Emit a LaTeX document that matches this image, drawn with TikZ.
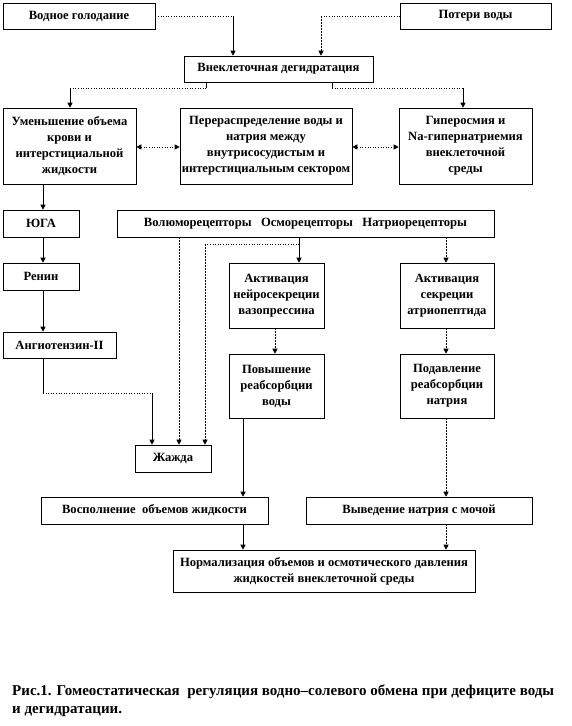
\documentclass[tikz,border=0pt]{standalone}
\usepackage{fontspec}
\setmainfont{Liberation Serif}
\usetikzlibrary{arrows.meta, positioning}
\tikzset{
    box/.style={draw=black, line width=0.6pt, align=center, inner sep=1pt, fill=white,
        font=\fontsize{12.6}{16}\selectfont\bfseries},
    arr/.style={-{Triangle[length=5pt, width=5pt]}, line width=0.6pt},
    darr/.style={arr, dash pattern=on 2pt off 1pt},
    dotline/.style={dotted, line width=0.6pt},
    solid line/.style={line width=0.6pt},
    caption/.style={anchor=north west, align=left, inner sep=0pt,
        font=\fontsize{15}{18}\selectfont\bfseries}
}

\begin{document}
\begin{tikzpicture}[x=1pt, y=-1pt]
    \useasboundingbox (0,0) rectangle (572,726);

    % --- TOP ROW ---
    \node[box, minimum width=152pt, minimum height=26pt] (hunger) at (79,16) {Водное голодание};
    \node[box, minimum width=151pt, minimum height=26pt] (loss) at (475.5,16) {Потери воды};
    \node[box, minimum width=189pt, minimum height=26pt] (dehydr) at (278.5,69) {Внеклеточная дегидратация};

    % --- SECOND ROW ---
    \node[box, minimum width=133pt, minimum height=76pt] (volume) at (69.5,146)
        {Уменьшение объема\\крови и\\интерстициальной\\жидкости};
    \node[box, minimum width=172pt, minimum height=76pt] (redistr) at (266,146)
        {Перераспределение воды и\\натрия между\\внутрисосудистым и\\интерстициальным сектором};
    \node[box, minimum width=133pt, minimum height=76pt] (hyperosm) at (465.5,146)
        {Гиперосмия и\\Na-гипернатриемия\\внеклеточной\\среды};

    % --- RECEPTORS AND RAAS ---
    \node[box, minimum width=76pt, minimum height=27pt] (yuga) at (41,223.5) {ЮГА};
    \node[box, minimum width=377pt, minimum height=27pt] (recept) at (305.5,223.5)
        {Волюморецепторы~~~Осморецепторы~~~Натриорецепторы};
    \node[box, minimum width=76pt, minimum height=27pt] (renin) at (41,276.5) {Ренин};
    \node[box, minimum width=113pt, minimum height=26pt] (angio) at (59.5,345) {Ангиотензин-II};

    \node[box, minimum width=95pt, minimum height=65pt] (vaso) at (276.5,295.5)
        {Активация\\нейросекреции\\вазопрессина};
    \node[box, minimum width=94pt, minimum height=65pt] (atrio) at (447,295.5)
        {Активация\\секреции\\атриопептида};
    \node[box, minimum width=95pt, minimum height=64pt] (reabsW) at (276.5,386)
        {Повышение\\реабсорбции\\воды};
    \node[box, minimum width=94pt, minimum height=64pt] (reabsNa) at (447,386)
        {Подавление\\реабсорбции\\натрия};

    \node[box, minimum width=76pt, minimum height=27pt] (thirst) at (173,458.5) {Жажда};

    % --- BOTTOM ---
    \node[box, minimum width=227pt, minimum height=27pt] (refill) at (154.5,510.5) {Восполнение~~объемов жидкости};
    \node[box, minimum width=226pt, minimum height=27pt] (excret) at (419,510.5) {Выведение натрия с мочой};
    \node[box, minimum width=302pt, minimum height=42pt] (norm) at (324,571)
        {Нормализация объемов и осмотического давления\\жидкостей внеклеточной среды};

    % --- CONNECTORS ---
    \draw[dotline] (hunger.east) -- (233,16) coordinate (h1);
    \draw[arr] (h1) -- (h1 |- dehydr.north);
    \draw[dotline] (loss.west) -- (321,16) coordinate (l1);
    \draw[darr] (l1) -- (l1 |- dehydr.north);

    \draw[solid line] (dehydr.south -| 206,0) -- (206,88) coordinate (d1);
    \draw[dotline] (d1) -- (70,88) coordinate (d2);
    \draw[arr] (d2) -- (d2 |- volume.north);
    \draw[solid line] (dehydr.south -| 332,0) -- (332,88) coordinate (d3);
    \draw[dotline] (d3) -- (463,88) coordinate (d4);
    \draw[arr] (d4) -- (d4 |- hyperosm.north);

    \draw[dotline, {Triangle[length=5pt, width=5pt]}-{Triangle[length=5pt, width=5pt]}]
        (volume.east |- 0,147) -- (redistr.west |- 0,147);
    \draw[dotline, {Triangle[length=5pt, width=5pt]}-{Triangle[length=5pt, width=5pt]}]
        (redistr.east |- 0,147) -- (hyperosm.west |- 0,147);

    \draw[arr] (volume.south -| 43,0) -- (yuga.north -| 43,0);
    \draw[arr] (yuga.south -| 43,0) -- (renin.north -| 43,0);
    \draw[arr] (renin.south -| 43,0) -- (angio.north -| 43,0);
    \draw[solid line] (angio.south -| 43,0) -- (43,393) coordinate (a1);
    \draw[dotline] (a1) -- (152,393) coordinate (a2);
    \draw[arr] (a2) -- (a2 |- thirst.north);

    \draw[darr] (recept.south -| 179,0) -- (thirst.north -| 179,0);
    \draw[arr] (recept.south -| 299,0) -- (vaso.north -| 299,0);
    \draw[dotline] (299,244) coordinate (r1) -- (205,244) coordinate (r2);
    \draw[darr] (r2) -- (thirst.north -| r2);
    \draw[darr] (recept.south -| 446,0) -- (atrio.north -| 446,0);

    \draw[darr] (vaso.south -| 275,0) -- (reabsW.north -| 275,0);
    \draw[darr] (atrio.south -| 446,0) -- (reabsNa.north -| 446,0);
    \draw[arr] (reabsW.south -| 243,0) -- (refill.north -| 243,0);
    \draw[darr] (reabsNa.south -| 446,0) -- (excret.north -| 446,0);
    \draw[arr] (refill.south -| 243,0) -- (norm.north -| 243,0);
    \draw[darr] (excret.south -| 446,0) -- (norm.north -| 446,0);

    % --- CAPTION ---
    \node[caption] (cap) at (12,685)
        {Рис.1. Гомеостатическая~~регуляция водно–солевого обмена при дефиците воды\\и дегидратации.};
\end{tikzpicture}
\end{document}
